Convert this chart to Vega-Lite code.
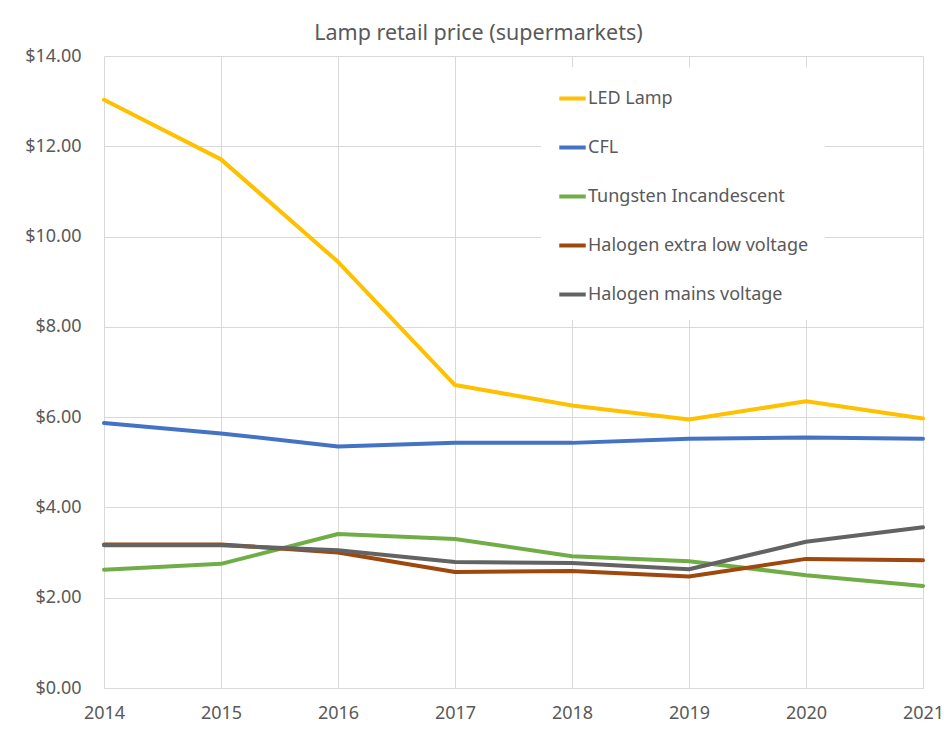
{
  "$schema": "https://vega.github.io/schema/vega-lite/v6.json",
  "autosize": {"type": "none"},
  "width": 819,
  "height": 632,
  "padding": {"left": 104, "top": 56, "right": 21, "bottom": 45},
  "background": "white",
  "title": {
    "text": "Lamp retail price (supermarkets)",
    "font": "Noto Sans",
    "fontSize": 21.5,
    "fontWeight": "normal",
    "color": "#595959",
    "anchor": "middle",
    "dx": -35,
    "offset": 3
  },
  "data": {
    "values": [
      {"year": 2014, "series": "LED Lamp", "price": 13.03},
      {"year": 2015, "series": "LED Lamp", "price": 11.71},
      {"year": 2016, "series": "LED Lamp", "price": 9.44},
      {"year": 2017, "series": "LED Lamp", "price": 6.71},
      {"year": 2018, "series": "LED Lamp", "price": 6.26},
      {"year": 2019, "series": "LED Lamp", "price": 5.95},
      {"year": 2020, "series": "LED Lamp", "price": 6.35},
      {"year": 2021, "series": "LED Lamp", "price": 5.97},
      {"year": 2014, "series": "CFL", "price": 5.87},
      {"year": 2015, "series": "CFL", "price": 5.64},
      {"year": 2016, "series": "CFL", "price": 5.35},
      {"year": 2017, "series": "CFL", "price": 5.43},
      {"year": 2018, "series": "CFL", "price": 5.43},
      {"year": 2019, "series": "CFL", "price": 5.52},
      {"year": 2020, "series": "CFL", "price": 5.55},
      {"year": 2021, "series": "CFL", "price": 5.52},
      {"year": 2014, "series": "Tungsten Incandescent", "price": 2.62},
      {"year": 2015, "series": "Tungsten Incandescent", "price": 2.75},
      {"year": 2016, "series": "Tungsten Incandescent", "price": 3.41},
      {"year": 2017, "series": "Tungsten Incandescent", "price": 3.30},
      {"year": 2018, "series": "Tungsten Incandescent", "price": 2.92},
      {"year": 2019, "series": "Tungsten Incandescent", "price": 2.81},
      {"year": 2020, "series": "Tungsten Incandescent", "price": 2.50},
      {"year": 2021, "series": "Tungsten Incandescent", "price": 2.26},
      {"year": 2014, "series": "Halogen extra low voltage", "price": 3.18},
      {"year": 2015, "series": "Halogen extra low voltage", "price": 3.18},
      {"year": 2016, "series": "Halogen extra low voltage", "price": 3.00},
      {"year": 2017, "series": "Halogen extra low voltage", "price": 2.57},
      {"year": 2018, "series": "Halogen extra low voltage", "price": 2.59},
      {"year": 2019, "series": "Halogen extra low voltage", "price": 2.47},
      {"year": 2020, "series": "Halogen extra low voltage", "price": 2.86},
      {"year": 2021, "series": "Halogen extra low voltage", "price": 2.83},
      {"year": 2014, "series": "Halogen mains voltage", "price": 3.16},
      {"year": 2015, "series": "Halogen mains voltage", "price": 3.16},
      {"year": 2016, "series": "Halogen mains voltage", "price": 3.05},
      {"year": 2017, "series": "Halogen mains voltage", "price": 2.79},
      {"year": 2018, "series": "Halogen mains voltage", "price": 2.77},
      {"year": 2019, "series": "Halogen mains voltage", "price": 2.63},
      {"year": 2020, "series": "Halogen mains voltage", "price": 3.24},
      {"year": 2021, "series": "Halogen mains voltage", "price": 3.56}
    ]
  },
  "mark": {"type": "line", "strokeWidth": 4, "strokeCap": "round", "strokeJoin": "round"},
  "encoding": {
    "x": {
      "field": "year",
      "type": "quantitative",
      "scale": {"domain": [2014, 2021], "nice": false, "zero": false},
      "axis": {
        "title": null,
        "values": [2014, 2015, 2016, 2017, 2018, 2019, 2020, 2021],
        "format": "d",
        "grid": true,
        "gridColor": "#D9D9D9",
        "gridWidth": 1,
        "ticks": false,
        "domain": true,
        "domainColor": "#D9D9D9",
        "labelFont": "Noto Sans",
        "labelFontSize": 18,
        "labelColor": "#595959",
        "labelPadding": 16,
        "labelFlush": false,
        "labelOverlap": false
      }
    },
    "y": {
      "field": "price",
      "type": "quantitative",
      "scale": {"domain": [0, 14], "nice": false},
      "axis": {
        "title": null,
        "values": [0, 2, 4, 6, 8, 10, 12, 14],
        "format": "$.2f",
        "grid": true,
        "gridColor": "#D9D9D9",
        "gridWidth": 1,
        "ticks": false,
        "domain": false,
        "labelFont": "Noto Sans",
        "labelFontSize": 18,
        "labelColor": "#595959",
        "labelPadding": 23
      }
    },
    "color": {
      "field": "series",
      "type": "nominal",
      "scale": {
        "domain": ["LED Lamp", "CFL", "Tungsten Incandescent", "Halogen extra low voltage", "Halogen mains voltage"],
        "range": ["#FFC000", "#4472C4", "#70AD47", "#9E480E", "#636363"]
      },
      "legend": {
        "title": null,
        "orient": "none",
        "legendX": 437,
        "legendY": 11,
        "fillColor": "white",
        "padding": 16,
        "symbolType": "stroke",
        "symbolSize": 700,
        "symbolStrokeWidth": 4,
        "labelFont": "Noto Sans",
        "labelFontSize": 18,
        "labelColor": "#595959",
        "labelOffset": 0,
        "rowPadding": 24,
        "labelLimit": 400
      }
    }
  },
  "config": {"view": {"stroke": null}}
}
